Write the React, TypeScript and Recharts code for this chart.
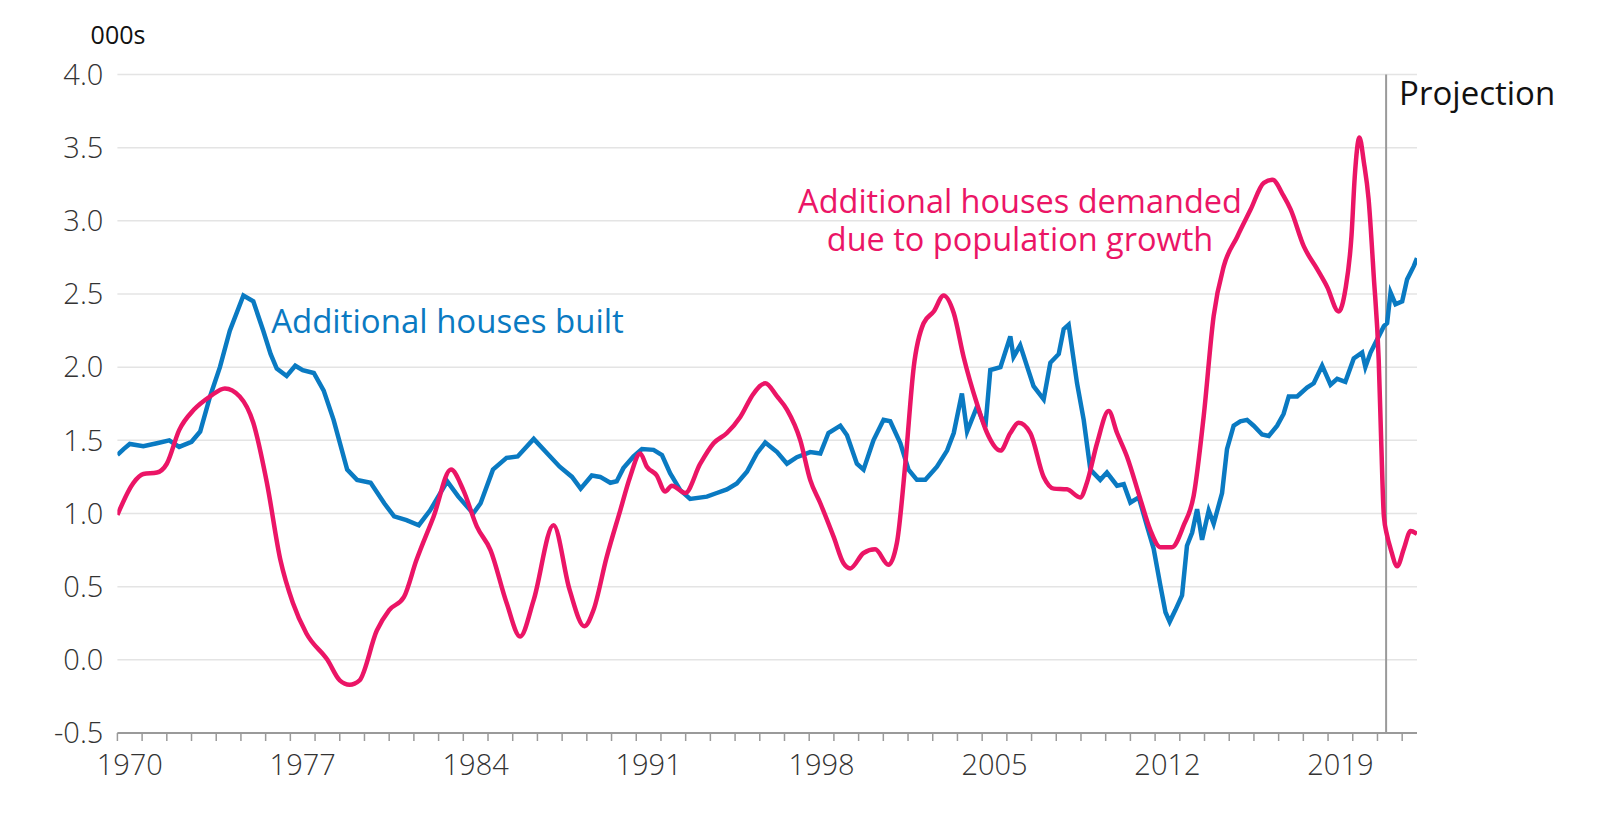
import { LineChart, Line, XAxis, YAxis, CartesianGrid, ReferenceLine } from 'recharts';

// Additional houses demanded due to population growth (000s)
const demandYears = [
  1970.0, 1970.65, 1971.05, 1971.6, 1972.0, 1972.5, 1973.1, 1973.75, 1974.35, 1974.95,
  1975.5, 1976.05, 1976.6, 1977.1, 1977.65, 1978.5, 1979.0, 1979.4, 1979.8, 1980.5,
  1981.0, 1981.6, 1982.1, 1982.8, 1983.5, 1984.0, 1984.55, 1985.1, 1985.75, 1986.3,
  1986.85, 1987.65, 1988.3, 1988.9, 1989.27, 1989.8, 1990.35, 1990.75, 1991.16, 1991.43,
  1991.83, 1992.17, 1992.44, 1992.98, 1993.59, 1994.13, 1994.67, 1995.21, 1995.75, 1996.22,
  1996.7, 1997.1, 1997.64, 1998.04, 1998.45, 1998.99, 1999.39, 1999.66, 2000.2, 2000.67,
  2001.21, 2001.55, 2001.89, 2002.23, 2002.63, 2003.04, 2003.44, 2003.85, 2004.25, 2004.79,
  2005.2, 2005.74, 2006.14, 2006.48, 2006.95, 2007.49, 2007.9, 2008.43, 2008.97, 2009.24,
  2009.65, 2010.12, 2010.46, 2010.86, 2011.4, 2011.8, 2012.21, 2012.68, 2013.16, 2013.56,
  2013.97, 2014.37, 2014.78, 2015.32, 2015.86, 2016.4, 2016.75, 2017.2, 2017.48, 2018.02,
  2018.56, 2018.96, 2019.43, 2019.7, 2019.95, 2020.08, 2020.27, 2020.45, 2020.64, 2020.85,
  2021.05, 2021.15, 2021.26, 2021.39, 2021.53, 2021.8, 2022.07, 2022.34, 2022.6,
];
const demandValues = [
  0.99, 1.21, 1.27, 1.28, 1.34, 1.57, 1.71, 1.8, 1.855, 1.8,
  1.62, 1.21, 0.68, 0.39, 0.18, 0.0, -0.14, -0.17, -0.14, 0.2,
  0.34, 0.43, 0.68, 0.98, 1.3, 1.16, 0.91, 0.75, 0.39, 0.16,
  0.41, 0.92, 0.48, 0.23, 0.34, 0.7, 1.02, 1.25, 1.41, 1.32,
  1.26, 1.15, 1.19, 1.14, 1.34, 1.48, 1.55, 1.66, 1.82, 1.89,
  1.8, 1.71, 1.5, 1.23, 1.07, 0.84, 0.66, 0.625, 0.73, 0.755,
  0.65, 0.8, 1.34, 2.0, 2.3, 2.38, 2.49, 2.37, 2.07, 1.75,
  1.55, 1.43, 1.55, 1.62, 1.55, 1.25, 1.17, 1.165, 1.11, 1.21,
  1.48, 1.7, 1.55, 1.39, 1.1, 0.89, 0.77, 0.77, 0.92, 1.12,
  1.67, 2.35, 2.69, 2.89, 3.075, 3.26, 3.28, 3.17, 3.08, 2.825,
  2.67, 2.55, 2.38, 2.53, 2.9, 3.3, 3.57, 3.4, 3.15, 2.62,
  2.05, 1.5, 0.98, 0.85, 0.76, 0.64, 0.76, 0.88, 0.86,
];

// Additional houses built (000s)
const builtYears = [
  1970.0, 1970.25, 1970.5, 1971.05, 1971.6, 1972.1, 1972.5, 1973.0, 1973.35, 1973.75,
  1974.15, 1974.55, 1975.1, 1975.5, 1975.9, 1976.2, 1976.45, 1976.85, 1977.2, 1977.5,
  1977.95, 1978.35, 1978.75, 1979.3, 1979.7, 1980.25, 1980.8, 1981.2, 1981.7, 1982.2,
  1982.65, 1983.35, 1983.8, 1984.4, 1984.7, 1985.2, 1985.75, 1986.2, 1986.85, 1987.4,
  1987.9, 1988.4, 1988.75, 1989.2, 1989.54, 1989.95, 1990.21, 1990.48, 1990.89, 1991.23,
  1991.7, 1992.04, 1992.37, 1992.78, 1993.18, 1993.86, 1994.26, 1994.67, 1995.07, 1995.48,
  1995.88, 1996.22, 1996.7, 1997.1, 1997.5, 1998.04, 1998.45, 1998.78, 1999.26, 1999.53,
  1999.93, 2000.2, 2000.6, 2001.01, 2001.28, 2001.69, 2002.02, 2002.36, 2002.7, 2003.17,
  2003.58, 2003.85, 2004.18, 2004.39, 2004.79, 2005.13, 2005.33, 2005.74, 2006.14, 2006.27,
  2006.54, 2007.08, 2007.49, 2007.76, 2008.1, 2008.3, 2008.5, 2008.84, 2009.11, 2009.38,
  2009.78, 2010.05, 2010.46, 2010.73, 2011.0, 2011.34, 2011.67, 2011.94, 2012.21, 2012.42,
  2012.59, 2012.82, 2013.09, 2013.29, 2013.5, 2013.7, 2013.9, 2014.17, 2014.37, 2014.71,
  2014.91, 2015.18, 2015.45, 2015.72, 2015.99, 2016.33, 2016.6, 2016.94, 2017.2, 2017.41,
  2017.75, 2018.15, 2018.42, 2018.76, 2019.1, 2019.37, 2019.7, 2020.04, 2020.38, 2020.51,
  2020.72, 2020.99, 2021.26, 2021.39, 2021.53, 2021.73, 2022.0, 2022.2, 2022.47, 2022.6,
];
const builtValues = [
  1.4, 1.44, 1.475, 1.46, 1.48, 1.5, 1.455, 1.49, 1.56, 1.8,
  2.0, 2.25, 2.49, 2.45, 2.25, 2.09, 1.99, 1.94, 2.01, 1.98,
  1.96, 1.84, 1.64, 1.3, 1.23, 1.21, 1.07, 0.98, 0.955, 0.92,
  1.02, 1.22, 1.115, 1.0, 1.07, 1.3, 1.38, 1.39, 1.51, 1.41,
  1.32, 1.25, 1.17, 1.26, 1.25, 1.21, 1.22, 1.31, 1.39, 1.44,
  1.435, 1.4, 1.275, 1.16, 1.1, 1.115, 1.14, 1.165, 1.205, 1.285,
  1.41, 1.485, 1.42, 1.34, 1.385, 1.42, 1.41, 1.55, 1.6, 1.535,
  1.34, 1.3, 1.5, 1.64, 1.63, 1.48, 1.3, 1.23, 1.23, 1.32,
  1.43, 1.55, 1.82, 1.56, 1.73, 1.59, 1.98, 2.0, 2.21, 2.07,
  2.15, 1.87, 1.78, 2.03, 2.09, 2.26, 2.29, 1.89, 1.64, 1.3,
  1.23, 1.28, 1.19, 1.2, 1.075, 1.11, 0.915, 0.76, 0.51, 0.325,
  0.26, 0.34, 0.44, 0.78, 0.87, 1.03, 0.82, 1.02, 0.93, 1.14,
  1.44, 1.6, 1.63, 1.64, 1.6, 1.54, 1.53, 1.6, 1.68, 1.8,
  1.8, 1.86, 1.89, 2.01, 1.88, 1.92, 1.9, 2.06, 2.1, 2.0,
  2.1, 2.19, 2.28, 2.3, 2.51, 2.43, 2.45, 2.6, 2.69, 2.745,
];

const yTicks = [-0.5, 0, 0.5, 1, 1.5, 2, 2.5, 3, 3.5, 4];
const labelYears = [1970, 1977, 1984, 1991, 1998, 2005, 2012, 2019];
const projectionStart = 2021.35;

const X_MIN = 1970;
const X_MAX = 2022.6;
const yearTicks = Array.from({ length: 53 }, (_, i) => X_MIN + i);

const demandData = demandYears.map((year, i) => ({ year, value: demandValues[i] }));
const builtData = builtYears.map((year, i) => ({ year, value: builtValues[i] }));

const WIDTH = 1585;
const HEIGHT = 803;
const Y_AXIS_W = 109.4;
const MARGIN = { top: 66.5, right: 176, bottom: 18, left: 0 };
const X_AXIS_H = 60;
const plotWidth = WIDTH - MARGIN.left - MARGIN.right - Y_AXIS_W;
const halfYear = plotWidth / (X_MAX - X_MIN) / 2;

const FONT = '"Segoe UI", "Open Sans", "Noto Sans", sans-serif';
const BLUE = '#0a7ac2';
const RED = '#eb1566';

const YearTick = ({ x, y, payload }: any) => {
  if (!labelYears.includes(payload.value)) return <g />;
  return (
    <text
      x={x + halfYear}
      y={y}
      dy={34}
      textAnchor="middle"
      fontSize={29}
      fontWeight={300}
      fontFamily={FONT}
      fill="#333"
    >
      {payload.value}
    </text>
  );
};

const ProjectionLabel = ({ viewBox }: any) => (
  <text x={viewBox.x + 13} y={viewBox.y + 18} dy={12} fontSize={33} fontFamily={FONT} fill="#111">
    Projection
  </text>
);

const note = (left: number, top: number, size: number, color: string) => ({
  position: 'absolute' as const,
  left,
  top,
  transform: 'translate(-50%, -50%)',
  fontSize: size,
  lineHeight: 1,
  color,
  whiteSpace: 'nowrap' as const,
});

export default function App() {
  return (
    <div style={{ position: 'relative', width: WIDTH, height: HEIGHT, fontFamily: FONT }}>
      <LineChart width={WIDTH} height={HEIGHT} margin={MARGIN}>
        <CartesianGrid vertical={false} stroke="#e4e4e4" strokeWidth={1.5} />
        <XAxis
          type="number"
          dataKey="year"
          domain={[X_MIN, X_MAX]}
          ticks={yearTicks}
          interval={0}
          height={X_AXIS_H}
          tickSize={8}
          tickMargin={0}
          tickLine={{ stroke: '#9a9a9a', strokeWidth: 1.5 }}
          axisLine={{ stroke: '#9a9a9a', strokeWidth: 2 }}
          tick={<YearTick />}
          allowDataOverflow
        />
        <YAxis
          type="number"
          domain={[-0.5, 4]}
          ticks={yTicks}
          width={Y_AXIS_W}
          axisLine={false}
          tickLine={false}
          tickSize={0}
          tickMargin={14}
          tickFormatter={(v: number) => v.toFixed(1)}
          tick={{ fontSize: 29, fontWeight: 300, fill: '#333', fontFamily: FONT }}
        />
        <ReferenceLine
          x={projectionStart}
          stroke="#9a9a9a"
          strokeWidth={2}
          label={<ProjectionLabel />}
        />
        <Line
          data={builtData}
          dataKey="value"
          type="linear"
          stroke={BLUE}
          strokeWidth={4.5}
          dot={false}
          isAnimationActive={false}
        />
        <Line
          data={demandData}
          dataKey="value"
          type="monotone"
          stroke={RED}
          strokeWidth={4.5}
          dot={false}
          isAnimationActive={false}
        />
      </LineChart>

      <div style={note(110, 26, 25, '#111')}>000s</div>
      <div style={note(439.5, 312, 33, BLUE)}>Additional houses built</div>
      <div style={note(1012, 193, 32.5, RED)}>Additional houses demanded</div>
      <div style={note(1012, 231, 32.5, RED)}>due to population growth</div>
    </div>
  );
}
